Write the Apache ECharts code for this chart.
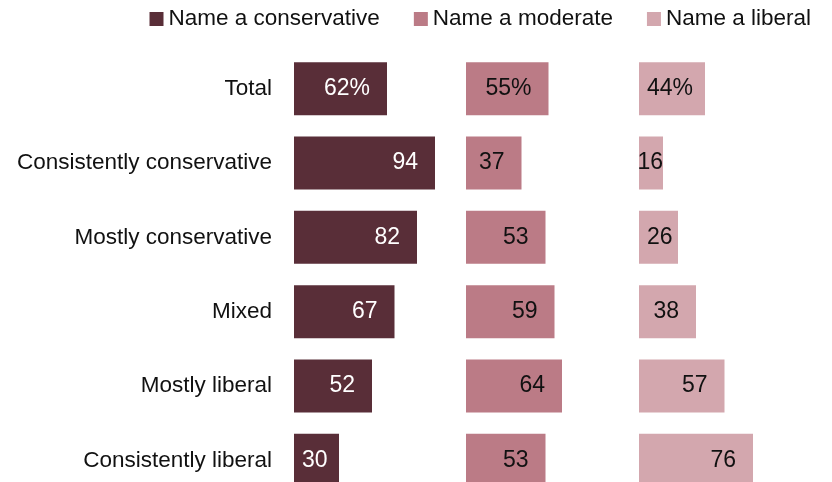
<!DOCTYPE html>
<html>
<head>
<meta charset="utf-8">
<script src="https://cdn.jsdelivr.net/npm/echarts@6/dist/echarts.min.js"></script>
<style>
  html, body { margin: 0; padding: 0; background: #fff; }
  #chart { width: 832px; height: 482px; }
</style>
</head>
<body>
<div id="chart"></div>
<script>
// Ideology groups, top to bottom
const categories = [
  'Total',
  'Consistently conservative',
  'Mostly conservative',
  'Mixed',
  'Mostly liberal',
  'Consistently liberal'
];
const seriesNames = ['Name a conservative', 'Name a moderate', 'Name a liberal'];
const conservativeValues = [62, 94, 82, 67, 52, 30];
const moderateValues = [55, 37, 53, 59, 64, 53];
const liberalValues = [44, 16, 26, 38, 57, 76];

const colors = ['#592e38', '#bb7b86', '#d3a7ae'];
const labelColors = ['#ffffff', '#111111', '#111111'];
const FONT = 'Liberation Sans, Arial, sans-serif';
const TEXT_SIZE = 22.5;
const VALUE_SIZE = 23;
const PX_PER_UNIT = 1.5;   // each panel spans 0..100 over 150px
const panelLeft = [294, 466, 639];

const measureCtx = document.createElement('canvas').getContext('2d');
measureCtx.font = VALUE_SIZE + 'px ' + FONT;
function textWidth(s) { return measureCtx.measureText(s).width; }

function labelText(v, i) { return i === 0 ? v + '%' : String(v); }

// Value labels sit near the bar end; short bars keep them near the bar start
function buildData(values) {
  return values.map(function (v, i) {
    const w = v * PX_PER_UNIT;
    const tw = textWidth(labelText(v, i));
    let label;
    if (w - 17 - tw >= 8) {
      label = { position: 'insideRight', distance: 17 };
    } else if (w >= tw + 10) {
      label = { position: 'insideLeft', distance: 8 };
    } else {
      label = { position: 'insideRight', distance: 0 };
    }
    return { value: v, label: label };
  });
}

const allValues = [conservativeValues, moderateValues, liberalValues];

const grids = panelLeft.map(function (l) {
  return {
    left: l, width: 100 * PX_PER_UNIT, top: 51.5, height: 446,
    containLabel: false, outerBoundsMode: 'none'
  };
});

const xAxes = panelLeft.map(function (_, k) {
  return { gridIndex: k, type: 'value', min: 0, max: 100, show: false };
});

const yAxes = panelLeft.map(function (_, k) {
  return {
    gridIndex: k,
    type: 'category',
    data: categories,
    inverse: true,
    show: k === 0,
    axisLine: { show: false },
    axisTick: { show: false },
    splitLine: { show: false },
    axisLabel: {
      show: k === 0,
      margin: 22,
      color: '#111111',
      fontFamily: FONT,
      fontSize: TEXT_SIZE
    }
  };
});

const series = allValues.map(function (vals, k) {
  return {
    name: seriesNames[k],
    type: 'bar',
    xAxisIndex: k,
    yAxisIndex: k,
    barWidth: 53,
    itemStyle: { color: colors[k] },
    label: {
      show: true,
      color: labelColors[k],
      fontFamily: FONT,
      fontSize: VALUE_SIZE,
      formatter: function (p) { return labelText(p.value, p.dataIndex); }
    },
    emphasis: { disabled: true },
    data: buildData(vals)
  };
});

const chart = echarts.init(document.getElementById('chart'), null, { renderer: 'canvas' });
chart.setOption({
  animation: false,
  backgroundColor: '#ffffff',
  color: colors,
  legend: {
    data: seriesNames,
    right: 16,
    top: 2.5,
    icon: 'rect',
    itemWidth: 14,
    itemHeight: 14,
    itemGap: 34,
    textStyle: { fontFamily: FONT, fontSize: TEXT_SIZE, color: '#111111' },
    selectedMode: false
  },
  grid: grids,
  xAxis: xAxes,
  yAxis: yAxes,
  series: series
});
</script>
</body>
</html>
